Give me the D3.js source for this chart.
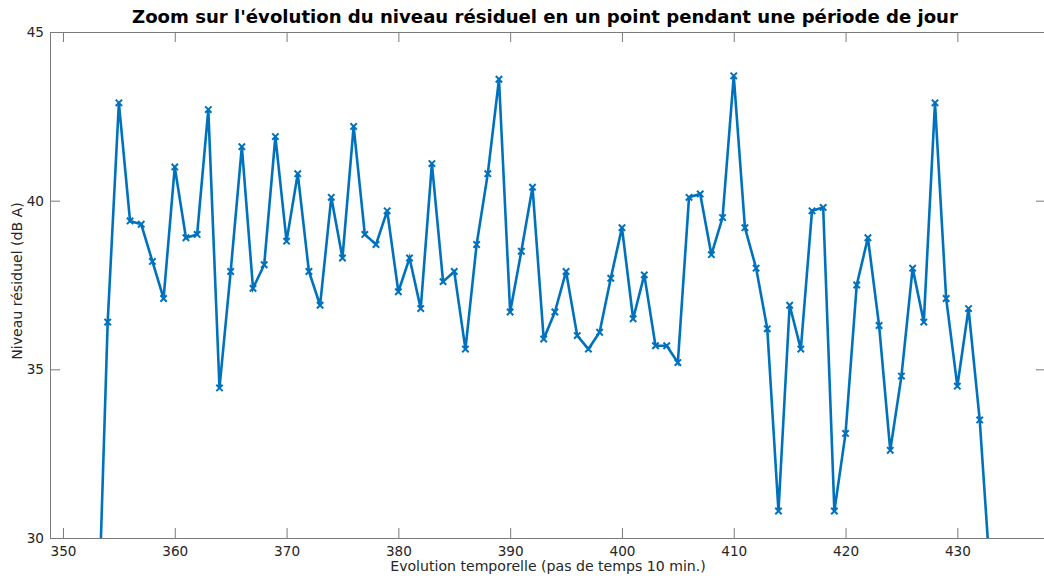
<!DOCTYPE html>
<html>
<head>
<meta charset="utf-8">
<script src="https://cdn.jsdelivr.net/npm/d3@7"></script>
<style>
  html, body { margin: 0; padding: 0; background: #fff; }
  svg { display: block; font-family: "DejaVu Sans", sans-serif; }
</style>
</head>
<body>
<svg id="chart" width="1044" height="581"></svg>
<script>
// ---- Data ----
const timeSteps = [353,354,355,356,357,358,359,360,361,362,363,364,365,366,367,368,369,370,371,372,373,374,375,376,377,378,379,380,381,382,383,384,385,386,387,388,389,390,391,392,393,394,395,396,397,398,399,400,401,402,403,404,405,406,407,408,409,410,411,412,413,414,415,416,417,418,419,420,421,422,423,424,425,426,427,428,429,430,431,432,433];
const levels = [25.8,36.4,42.9,39.4,39.3,38.2,37.1,41.0,38.9,39.0,42.7,34.45,37.9,41.6,37.4,38.1,41.9,38.8,40.8,37.9,36.9,40.1,38.3,42.2,39.0,38.7,39.7,37.3,38.3,36.8,41.1,37.6,37.9,35.6,38.7,40.8,43.6,36.7,38.5,40.4,35.9,36.7,37.9,36.0,35.6,36.1,37.7,39.2,36.5,37.8,35.7,35.7,35.2,40.1,40.2,38.4,39.5,43.7,39.2,38.0,36.2,30.8,36.9,35.6,39.7,39.8,30.8,33.1,37.5,38.9,36.3,32.6,34.8,38.0,36.4,42.9,37.1,34.5,36.8,33.5,28.6];
const xTicks = [350,360,370,380,390,400,410,420,430];
const yTicks = [30,35,40,45];
const titleText = "Zoom sur l'évolution du niveau résiduel en un point pendant une période de jour";
const xLabelText = "Evolution temporelle (pas de temps 10 min.)";
const yLabelText = "Niveau résiduel (dB A)";

// ---- Layout ----
const svg = d3.select("#chart");
const L = 50, R = 1046, T = 32, B = 538;
const x = d3.scaleLinear().domain([348.84, 437.93]).range([L, R]);
const y = d3.scaleLinear().domain([30, 45]).range([B, T]);
const axisColor = "#7a7a7a";
const textColor = "#262626";
const lineColor = "#0072BD";
const fs = 13.6;
const lfs = 14.1;

svg.append("defs").append("clipPath").attr("id", "clip")
  .append("rect").attr("x", L).attr("y", T).attr("width", R - L).attr("height", B - T);

function styleAxis(g, showText) {
  g.select(".domain").remove();
  g.selectAll(".tick line").attr("stroke", axisColor).attr("stroke-width", 1);
  g.selectAll(".tick text").attr("fill", textColor).style("font-size", fs + "px")
    .style("font-family", "'DejaVu Sans', sans-serif");
  if (!showText) g.selectAll(".tick text").remove();
}

svg.append("g").attr("transform", `translate(0,${B})`)
  .call(d3.axisBottom(x).tickValues(xTicks).tickSize(-10).tickPadding(8.4).tickFormat(d3.format("d")))
  .call(g => styleAxis(g, true));
svg.append("g").attr("transform", `translate(0,${T})`)
  .call(d3.axisTop(x).tickValues(xTicks).tickSize(-10).tickFormat(""))
  .call(g => styleAxis(g, false));
svg.append("g").attr("transform", `translate(${L},0)`)
  .call(d3.axisLeft(y).tickValues(yTicks).tickSize(-10).tickPadding(6).tickFormat(d3.format("d")))
  .call(g => styleAxis(g, true));
svg.append("g").attr("transform", `translate(${R},0)`)
  .call(d3.axisRight(y).tickValues(yTicks).tickSize(-10).tickFormat(""))
  .call(g => styleAxis(g, false));

svg.append("rect").attr("x", L + 0.5).attr("y", T + 0.5)
  .attr("width", R - L - 1).attr("height", B - T)
  .attr("fill", "none").attr("stroke", axisColor).attr("stroke-width", 1);

// Data line
const data = timeSteps.map((t, i) => ({ t, v: levels[i] }));
const plot = svg.append("g").attr("clip-path", "url(#clip)");
plot.append("path").datum(data)
  .attr("fill", "none").attr("stroke", lineColor).attr("stroke-width", 2.6)
  .attr("stroke-linejoin", "miter")
  .attr("d", d3.line().x(d => x(d.t)).y(d => y(d.v)));

const ms = 3.2;
plot.selectAll("path.mk").data(data).enter().append("path")
  .attr("class", "mk")
  .attr("d", d => {
    const cx = x(d.t), cy = y(d.v);
    return `M${cx - ms},${cy - ms}L${cx + ms},${cy + ms}M${cx - ms},${cy + ms}L${cx + ms},${cy - ms}`;
  })
  .attr("stroke", lineColor).attr("stroke-width", 2).attr("fill", "none");

// Title & labels
svg.append("text").attr("x", 545).attr("y", 22.5)
  .attr("text-anchor", "middle").attr("font-weight", "bold")
  .style("font-size", "18.1px").attr("fill", "#000").text(titleText);

svg.append("text").attr("x", 548).attr("y", 571)
  .attr("text-anchor", "middle").style("font-size", lfs + "px")
  .attr("fill", textColor).text(xLabelText);

svg.append("text").attr("transform", `translate(22,281) rotate(-90)`)
  .attr("text-anchor", "middle").style("font-size", lfs + "px")
  .attr("fill", textColor).text(yLabelText);
</script>
</body>
</html>
